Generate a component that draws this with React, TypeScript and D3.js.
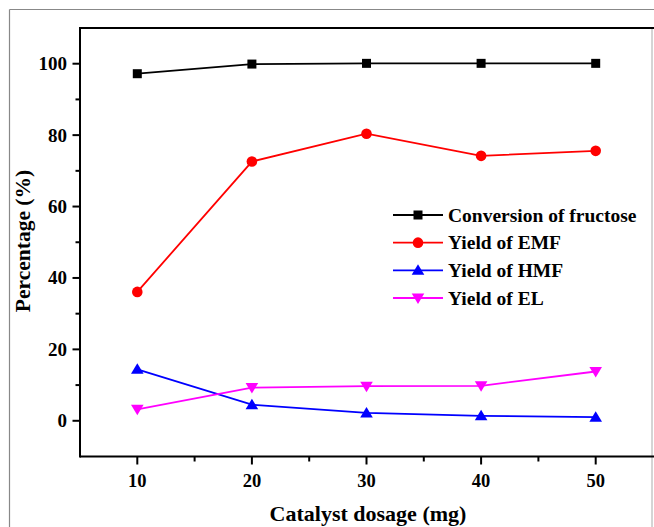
import * as d3 from 'd3';
import { type FC } from 'react';

const dosage = [10, 20, 30, 40, 50];
const conversion = [97.2, 99.9, 100.1, 100.1, 100.1];
const yieldEMF = [36.1, 72.6, 80.4, 74.2, 75.6];
const yieldHMF = [14.4, 4.5, 2.2, 1.4, 1.0];
const yieldEL = [3.2, 9.3, 9.7, 9.8, 13.8];

const xMajor = [10, 20, 30, 40, 50];
const xMinor = [15, 25, 35, 45];
const yMajor = [0, 20, 40, 60, 80, 100];
const yMinor = [10, 30, 50, 70, 90];

type Series = { name: string; color: string; shape: string; values: number[] };

const series: Series[] = [
  { name: 'Conversion of fructose', color: '#000000', shape: 'square', values: conversion },
  { name: 'Yield of EMF', color: '#ff0000', shape: 'circle', values: yieldEMF },
  { name: 'Yield of HMF', color: '#0000ff', shape: 'up', values: yieldHMF },
  { name: 'Yield of EL', color: '#ff00ff', shape: 'down', values: yieldEL },
];

const W = 654;
const H = 527;
const font = "'Liberation Serif', 'Times New Roman', serif";

const Marker: FC<{ shape: string; x: number; y: number; color: string }> = ({ shape, x, y, color }) => {
  if (shape === 'square') return <rect x={x - 4.5} y={y - 4.5} width={9} height={9} fill={color} />;
  if (shape === 'circle') return <circle cx={x} cy={y} r={5.3} fill={color} />;
  const s = 6;
  const pts =
    shape === 'up'
      ? `${x},${y - s} ${x - s * 1.05},${y + s * 0.75} ${x + s * 1.05},${y + s * 0.75}`
      : `${x},${y + s} ${x - s * 1.05},${y - s * 0.75} ${x + s * 1.05},${y - s * 0.75}`;
  return <polygon points={pts} fill={color} />;
};

const App: FC = () => {
  const x = d3.scaleLinear([5, 55], [80, 653]);
  const y = d3.scaleLinear([-10, 110], [456.5, 28]);
  const line = d3
    .line<number>()
    .x((_d, i) => x(dosage[i]))
    .y((d) => y(d));

  const legendX = 393;
  const legendY = d3.scalePoint<string>(series.map((s) => s.name), [215, 298]);

  return (
    <svg
      width={W}
      height={H}
      viewBox={`0 0 ${W} ${H}`}
      style={{ position: 'absolute', left: 0, top: 0, background: '#fff' }}
      fontFamily={font}
      fontWeight='bold'
    >
      {/* outer frame, cropped on the right and bottom */}
      <line x1={9.5} x2={W} y1={9.5} y2={9.5} stroke='#888' strokeWidth={1.2} />
      <line x1={9.5} x2={9.5} y1={9.5} y2={H} stroke='#888' strokeWidth={1.2} />
      <line x1={652} x2={652} y1={y(110)} y2={H} stroke='#aaa' strokeWidth={1} />

      {/* axes */}
      <line x1={x(5)} x2={W} y1={y(110)} y2={y(110)} stroke='#000' strokeWidth={2} />
      <line x1={x(5)} x2={W} y1={y(-10)} y2={y(-10)} stroke='#000' strokeWidth={2} />
      <line x1={x(5)} x2={x(5)} y1={y(110) - 1} y2={y(-10) + 1} stroke='#000' strokeWidth={2} />

      {xMajor.map((t) => (
        <g key={`xm${t}`}>
          <line x1={x(t)} x2={x(t)} y1={y(-10)} y2={y(-10) + 8} stroke='#000' strokeWidth={2} />
          <text x={x(t)} y={487} textAnchor='middle' fontSize={18.5}>
            {t}
          </text>
        </g>
      ))}
      {xMinor.map((t) => (
        <line key={`xn${t}`} x1={x(t)} x2={x(t)} y1={y(-10)} y2={y(-10) + 5} stroke='#000' strokeWidth={2} />
      ))}
      {yMajor.map((t) => (
        <g key={`ym${t}`}>
          <line x1={x(5) - 7.5} x2={x(5)} y1={y(t)} y2={y(t)} stroke='#000' strokeWidth={2} />
          <text x={67} y={y(t) + 6.5} textAnchor='end' fontSize={19}>
            {t}
          </text>
        </g>
      ))}
      {yMinor.map((t) => (
        <line key={`yn${t}`} x1={x(5) - 4.5} x2={x(5)} y1={y(t)} y2={y(t)} stroke='#000' strokeWidth={2} />
      ))}

      <text x={368} y={521} textAnchor='middle' fontSize={22}>
        Catalyst dosage (mg)
      </text>
      <text transform='translate(30,241) rotate(-90)' textAnchor='middle' fontSize={21.5}>
        Percentage (%)
      </text>

      {/* series */}
      {series.map((s) => (
        <g key={s.name}>
          <path d={line(s.values) ?? undefined} fill='none' stroke={s.color} strokeWidth={1.8} />
          {s.values.map((v, i) => (
            <Marker key={i} shape={s.shape} x={x(dosage[i])} y={y(v)} color={s.color} />
          ))}
        </g>
      ))}

      {/* legend */}
      {series.map((s) => {
        const ly = legendY(s.name) ?? 0;
        return (
          <g key={`lg${s.name}`}>
            <line x1={legendX} x2={legendX + 50} y1={ly} y2={ly} stroke={s.color} strokeWidth={1.8} />
            <Marker shape={s.shape} x={legendX + 25} y={ly} color={s.color} />
            <text x={legendX + 55} y={ly + 6.5} fontSize={19.5}>
              {s.name}
            </text>
          </g>
        );
      })}
    </svg>
  );
};

export default App;
